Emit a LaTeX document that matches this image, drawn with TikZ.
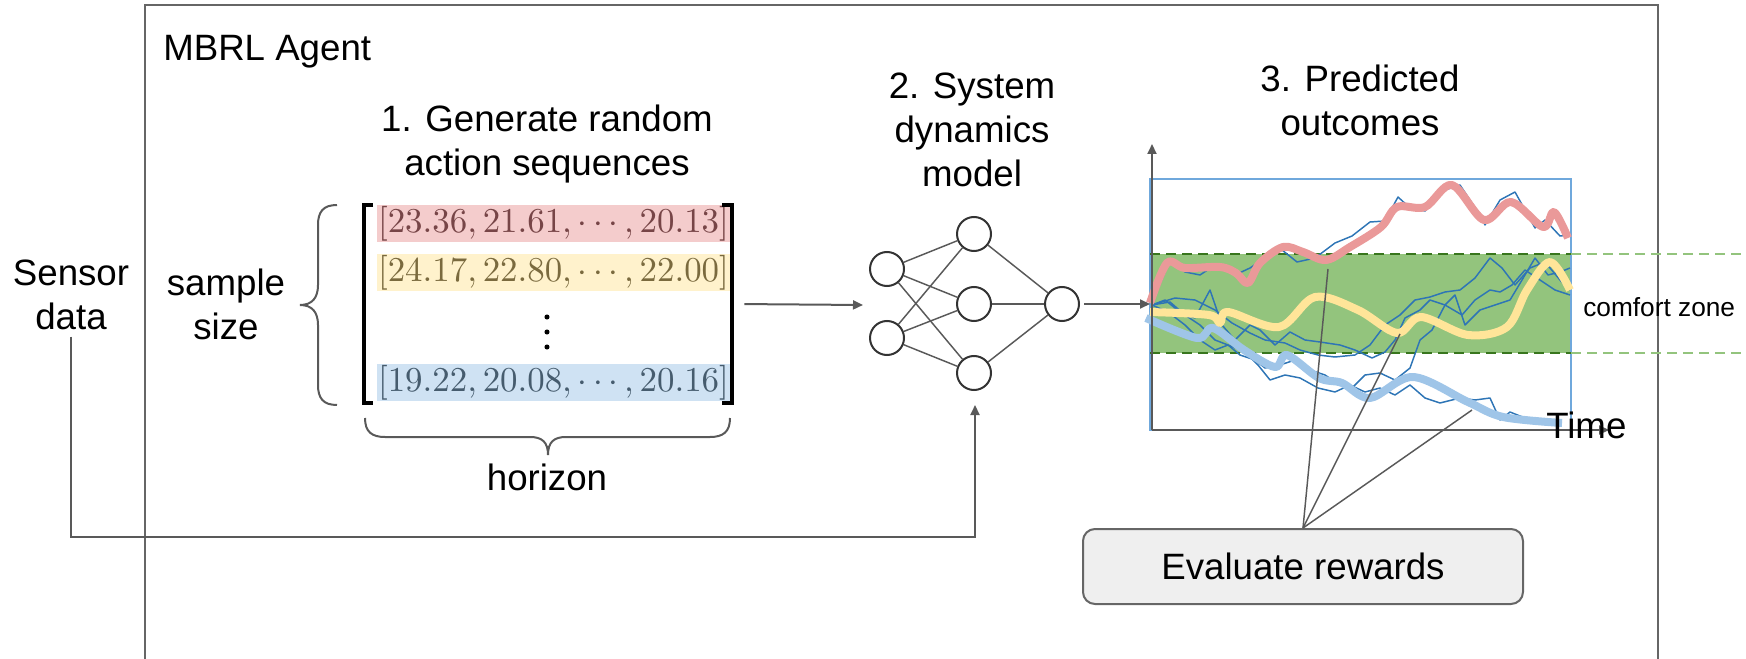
\documentclass[tikz,border=0pt]{standalone}
\usepackage[no-math]{fontspec}
\setmainfont{Liberation Sans}
\usepackage{graphicx}
\usetikzlibrary{arrows.meta}
\definecolor{linegray}{HTML}{595959}
\definecolor{agentgray}{HTML}{666666}
\definecolor{rowred}{HTML}{F4CCCC}
\definecolor{txtred}{HTML}{774547}
\definecolor{rowyel}{HTML}{FFF2CC}
\definecolor{txtyel}{HTML}{7A6A3E}
\definecolor{rowblu}{HTML}{CFE2F3}
\definecolor{txtblu}{HTML}{465C6E}
\definecolor{zonegreen}{HTML}{93C47D}
\definecolor{darkgreen}{HTML}{38761D}
\definecolor{rectblue}{HTML}{6FA8DC}
\definecolor{walkblue}{HTML}{2E75B6}
\definecolor{curvered}{HTML}{EA9999}
\definecolor{curveyel}{HTML}{FFE599}
\definecolor{curveblu}{HTML}{9FC5E8}
\definecolor{evfill}{HTML}{EFEFEF}
\definecolor{nodeborder}{HTML}{333333}
\newcommand{\rowtext}[1]{\resizebox{263pt}{!}{$#1$}}
\begin{document}
\begin{tikzpicture}[x=0.75pt,y=-0.75pt,
  lbl/.style={font=\fontsize{27.5}{33}\selectfont, inner sep=0pt, align=center},
  arr/.style={draw=linegray, line width=1.5pt, -{Triangle[length=7.5pt,width=6.75pt]}},
  neuron/.style={circle, draw=nodeborder, line width=1.5pt, fill=white, minimum size=25.5pt, inner sep=0pt},
  nnedge/.style={draw=linegray, line width=1.1pt},
  rowbox/.style={inner sep=0pt, minimum width=264.75pt, minimum height=27.75pt},
  bracefill/.style={draw=linegray, line width=1.5pt},
  walk/.style={draw=walkblue, line width=1.1pt, line join=round},
  thickcurve/.style={line width=6pt, line join=round},
  evbox/.style={draw=agentgray, fill=evfill, line width=1.5pt, rounded corners=9pt, minimum width=330pt, minimum height=56.25pt, font=\fontsize{27.5}{33}\selectfont},
  evline/.style={draw=linegray, line width=1.1pt}
]
\useasboundingbox (0,0) rectangle (1746,659);

% agent frame
\draw[agentgray, line width=1.5pt] (145,659) -- (145,5) -- (1658,5) -- (1658,659);
\node[lbl, anchor=base west] (agent) at (163,61) {MBRL Agent};

% titles
\node[lbl] (gen) at (547,143.6) {1. Generate random\\action sequences};
\node[lbl] (sys) at (972,129.6) {2. System\\dynamics\\model};
\node[lbl] (pred) at (1360,100.3) {3. Predicted\\outcomes};
\node[lbl] (sensor) at (71,294.5) {Sensor\\data};
\node[lbl] (sample) at (226,304) {sample\\size};
\node[lbl, anchor=base] (hor) at (547,490) {horizon};

% matrix rows
\node[rowbox, fill=rowred, text=txtred] (r1) at (553.5,223.5) {\rowtext{[23.36, 21.61, \cdots, 20.13]}};
\node[rowbox, fill=rowyel, text=txtyel] (r2) at (553.5,272.5) {\rowtext{[24.17, 22.80, \cdots, 22.00]}};
\node[rowbox, fill=rowblu, text=txtblu] (r3) at (553.5,382.5) {\rowtext{[19.22, 20.08, \cdots, 20.16]}};
\fill (547,317) circle[radius=1.9pt];
\fill (547,332) circle[radius=1.9pt];
\fill (547,347) circle[radius=1.9pt];
% matrix brackets
\draw[black, line width=3pt] (373,205) -- (364,205) -- (364,403) -- (373,403);
\draw[black, line width=3pt] (722,205) -- (732,205) -- (732,403) -- (722,403);
\node[inner sep=0pt, minimum width=279.75pt, minimum height=148.5pt] (mat) at (548.5,304) {};

% braces
\draw[bracefill] (337,205) .. controls (323,205) and (318,212) .. (318,225) -- (318,285)
  .. controls (318,298) and (312,305) .. (300,305)
  .. controls (312,305) and (318,312) .. (318,325) -- (318,385)
  .. controls (318,398) and (323,405) .. (337,405);
\draw[bracefill] (365,418) .. controls (365,432) and (372,437) .. (385,437) -- (530,437)
  .. controls (542,437) and (548,442) .. (548,455)
  .. controls (548,442) and (554,437) .. (566,437) -- (710,437)
  .. controls (723,437) and (730,432) .. (730,418);

% neural network
\node[neuron] (i1) at (887,269) {};
\node[neuron] (i2) at (887,338) {};
\node[neuron] (h1) at (974,234) {};
\node[neuron] (h2) at (974,304) {};
\node[neuron] (h3) at (974,373) {};
\node[neuron] (o) at (1062,304) {};
\foreach \a in {i1,i2}{\foreach \b in {h1,h2,h3}{\draw[nnedge] (\a) -- (\b);}}
\foreach \b in {h1,h2,h3}{\draw[nnedge] (\b) -- (o);}

\coordinate (nnin) at (863,305);
\draw[arr, shorten <=6.75pt] (mat.east) -- (nnin);

% chart
\fill[zonegreen] (1150,254) rectangle (1571,353);
\draw[rectblue, line width=1.5pt] (1150,179) rectangle (1571,430);
\draw[darkgreen, line width=1.3pt, dash pattern=on 7.5pt off 4.5pt] (1150,254) -- (1571,254);
\draw[darkgreen, line width=1.3pt, dash pattern=on 7.5pt off 4.5pt] (1150,353) -- (1571,353);
\draw[zonegreen, line width=1.5pt, dash pattern=on 7.5pt off 4.5pt] (1571,254) -- (1746,254);
\draw[zonegreen, line width=1.5pt, dash pattern=on 7.5pt off 4.5pt] (1571,353) -- (1746,353);

\draw[walk] plot coordinates {(1152,303) (1170,260) (1185,272) (1200,275) (1215,265) (1235,275) (1250,268) (1262,260) (1282,250) (1297,262) (1315,258) (1335,243) (1352,236) (1370,222) (1385,221) (1398,197) (1410,208) (1425,211) (1445,190) (1460,185) (1480,215) (1485,225) (1500,200) (1515,192) (1535,228) (1545,220) (1560,236) (1570,235)};
\draw[walk] plot coordinates {(1152,305) (1165,300) (1180,312) (1195,318) (1210,290) (1222,325) (1235,340) (1250,325) (1260,330) (1275,345) (1290,332) (1305,340) (1320,342) (1340,345) (1355,350) (1372,358) (1385,352) (1395,340) (1405,318) (1420,310) (1430,300) (1445,305) (1455,295) (1465,325) (1480,310) (1495,305) (1510,300) (1522,280) (1535,258) (1548,275) (1560,272) (1570,268)};
\draw[walk] plot coordinates {(1152,305) (1170,302) (1185,315) (1200,325) (1215,340) (1228,345) (1240,355) (1255,360) (1265,368) (1280,365) (1295,360) (1310,370) (1325,375) (1340,385) (1352,388) (1365,375) (1380,373) (1395,380) (1410,368) (1420,340) (1432,330) (1445,305) (1462,315) (1475,300) (1490,290) (1500,292) (1512,285) (1525,270) (1540,280) (1555,290) (1570,295)};
\draw[walk] plot coordinates {(1152,305) (1168,312) (1185,325) (1200,340) (1215,350) (1228,345) (1245,352) (1258,365) (1270,380) (1285,375) (1300,378) (1318,388) (1335,392) (1350,385) (1365,392) (1380,388) (1395,395) (1410,385) (1425,398) (1440,403) (1460,398) (1475,400) (1490,398) (1500,420) (1510,412) (1525,418)};
\draw[walk] plot coordinates {(1152,305) (1175,298) (1195,300) (1215,310) (1232,323) (1250,333) (1265,340) (1285,343) (1300,350) (1318,355) (1335,357) (1355,355) (1370,345) (1385,325) (1400,315) (1415,300) (1430,297) (1445,292) (1460,290) (1475,278) (1490,258) (1502,268) (1515,285) (1530,268) (1545,262) (1560,280) (1570,290)};

\draw[thickcurve, curveblu] plot[smooth, tension=0.55] coordinates {(1146,318) (1197,338) (1213,328) (1244,350) (1275,367) (1287,355) (1319,378) (1342,383) (1370,398) (1413,377) (1468,402) (1503,417) (1562,423)};
\draw[thickcurve, curveyel] plot[smooth, tension=0.55] coordinates {(1150,312) (1209,315) (1220,323) (1228,312) (1279,327) (1315,297) (1358,310) (1397,333) (1421,317) (1468,335) (1507,327) (1527,290) (1550,262) (1570,290)};
\draw[thickcurve, curvered] plot[smooth, tension=0.55] coordinates {(1150,303) (1167,263) (1185,268) (1220,267) (1236,273) (1248,283) (1260,263) (1283,247) (1303,252) (1326,260) (1350,247) (1381,227) (1397,207) (1425,207) (1452,185) (1484,220) (1511,202) (1543,227) (1554,212) (1568,238)};

\coordinate (orig) at (1152,430);
\coordinate (ytop) at (1152,144);
\coordinate (xend) at (1609,430);
\draw[arr] (orig) -- (ytop);
\draw[arr] (orig) -- (xend);

\coordinate (chin) at (1150,304);
\draw[arr, shorten <=3pt] (o) -- (chin);

\node[lbl, anchor=base west] (time) at (1546,438) {Time};
\node[font=\fontsize{19.7}{24}\selectfont, inner sep=0pt, anchor=base west] (cz) at (1583,316) {comfort zone};

% evaluate rewards
\node[evbox] (ev) at (1303,566.5) {Evaluate rewards};
\coordinate (pr) at (1328,269);
\coordinate (py) at (1400,334);
\coordinate (pb) at (1472,410);
\draw[evline] (ev.north) -- (pr);
\draw[evline] (ev.north) -- (py);
\draw[evline] (ev.north) -- (pb);

% sensor data feed
\coordinate (sc) at (975,537);
\coordinate (st) at (975,405);
\draw[arr, shorten <=5.25pt] (sensor.south) |- (sc) -- (st);
\end{tikzpicture}
\end{document}
